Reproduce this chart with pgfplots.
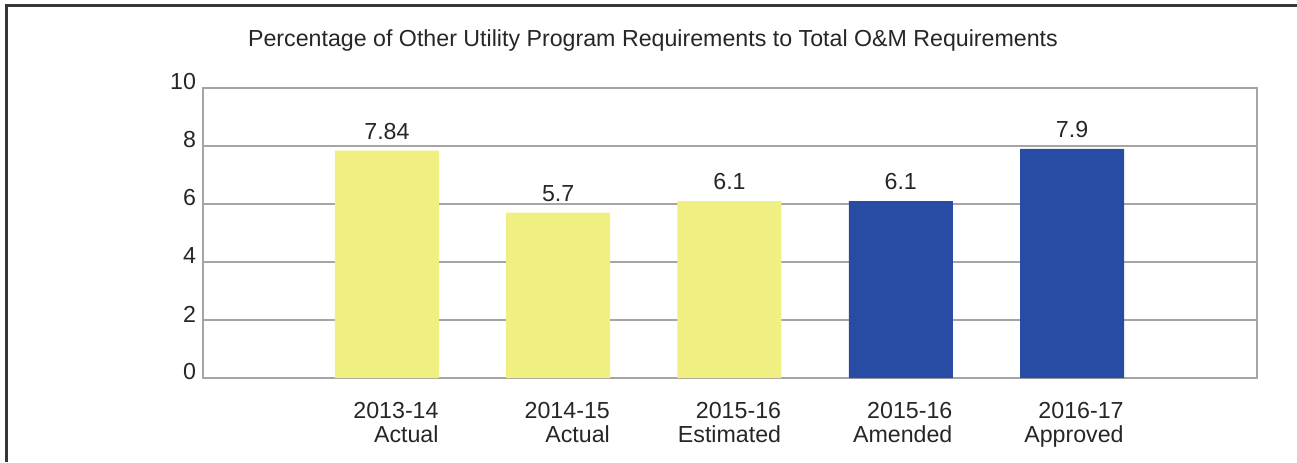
\documentclass[border=0pt]{standalone}
\usepackage{fontspec}
\setmainfont{Liberation Sans}
\usepackage{pgfplots}
\pgfplotsset{compat=1.18}
\definecolor{baryellow}{RGB}{240,239,130}
\definecolor{barblue}{RGB}{40,76,164}
\definecolor{gridgray}{RGB}{165,165,165}
\definecolor{framegray}{RGB}{55,55,55}
\begin{document}
\begin{tikzpicture}
\path[use as bounding box] (0pt,0pt) rectangle (648.5pt,231pt);
\draw[line width=1.5pt, framegray] (3.25pt,0pt) -- (3.25pt,228.25pt) -- (648.5pt,228.25pt);
\node[font=\fontsize{11.6}{13}\selectfont, text=black!85] at (326.5pt,210.5pt) {Percentage of Other Utility Program Requirements to Total O\&M Requirements};
\begin{axis}[
  at={(101.5pt,42pt)}, anchor=south west,
  scale only axis, width=527pt, height=145pt,
  xmin=-1.074, xmax=5.08, ymin=0, ymax=10,
  ytick={0,2,4,6,8,10},
  xtick={0,1,2,3,4},
  xticklabels={{2013-14\\Actual},{2014-15\\Actual},{2015-16\\Estimated},{2015-16\\Amended},{2016-17\\Approved}},
  xticklabel style={align=right, anchor=north east, inner sep=0pt, xshift=26pt, yshift=-12pt, font=\fontsize{11.6}{11.8}\selectfont, text=black!85},
  yticklabel style={font=\fontsize{11.6}{13}\selectfont, text=black!85, yshift=3pt},
  /pgf/number format/assume math mode=true,
  major tick length=0pt,
  ymajorgrids, grid style={gridgray, line width=0.6pt},
  axis line style={gridgray, line width=0.6pt},
  nodes near coords,
  every node near coord/.append style={font=\fontsize{11.6}{13}\selectfont, text=black!85, yshift=2pt},
]
\addplot[ybar, bar width=52pt, bar shift=0pt, fill=baryellow, draw=none] coordinates {(0,7.84) (1,5.7) (2,6.1)};
\addplot[ybar, bar width=52pt, bar shift=0pt, fill=barblue, draw=none] coordinates {(3,6.1) (4,7.9)};
\end{axis}
\end{tikzpicture}
\end{document}
